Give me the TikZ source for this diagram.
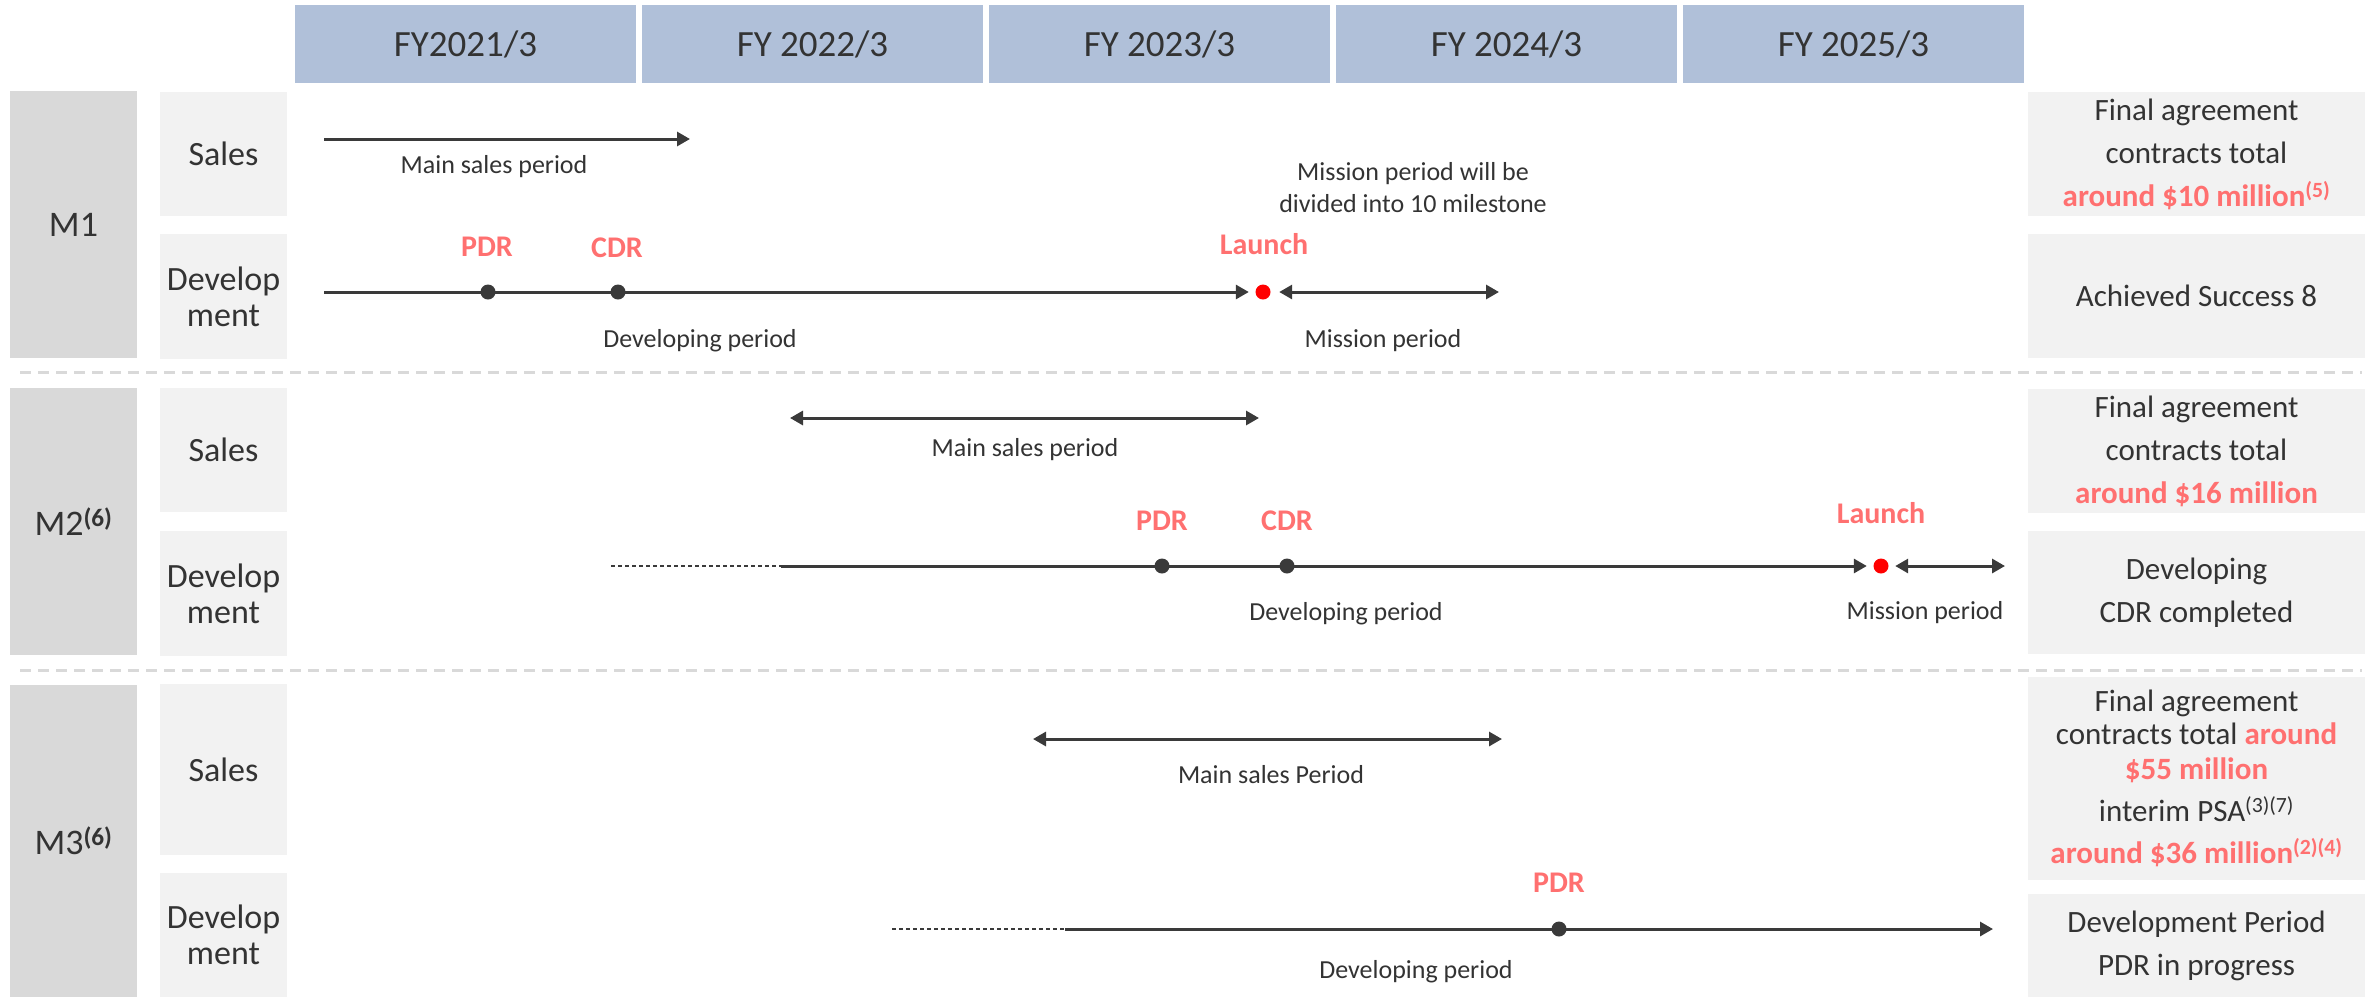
\documentclass[tikz,border=0pt]{standalone}
\usepackage{fontspec}
\setmainfont{Carlito}
\usetikzlibrary{arrows.meta}

\definecolor{hdrblue}{RGB}{176,192,217}
\definecolor{mgray}{RGB}{217,217,217}
\definecolor{rowgray}{RGB}{242,242,242}
\definecolor{ink}{RGB}{51,51,51}
\definecolor{lnk}{RGB}{58,58,58}
\definecolor{hot}{RGB}{255,112,112}

\newcommand{\amount}[1]{\textcolor{hot}{\bfseries #1}}

\begin{document}
\begin{tikzpicture}[
  x=1pt, y=-1pt,
  >={Triangle[length=13pt,width=14pt]},
  every node/.style={inner sep=0pt, text=ink},
  yearbox/.style={fill=hdrblue, minimum width=341pt, minimum height=78pt,
    font=\fontsize{37}{44}\selectfont},
  mbox/.style={fill=mgray, minimum width=127pt, font=\fontsize{36}{40}\selectfont},
  rowbox/.style={fill=rowgray, minimum width=127pt, align=center,
    font=\fontsize{34}{36}\selectfont},
  notebox/.style={fill=rowgray, minimum width=337pt, align=center,
    font=\fontsize{31}{43}\selectfont},
  period/.style={draw=lnk, line width=3pt},
  lead/.style={draw=lnk, line width=1.2pt, dash pattern=on 4pt off 3pt},
  sep/.style={draw=mgray, line width=3pt, dash pattern=on 11pt off 7pt},
  dot/.style={circle, fill=lnk, minimum size=15pt},
  launch/.style={circle, fill=red, minimum size=15pt},
  mslabel/.style={anchor=base, text=hot, font=\fontsize{30}{34}\selectfont\bfseries},
  caption/.style={anchor=base, font=\fontsize{26}{32}\selectfont},
]
\useasboundingbox (0,0) rectangle (2374,997);

% fiscal years
\foreach \fy [count=\i from 0] in {FY2021/3, FY 2022/3, FY 2023/3, FY 2024/3, FY 2025/3}
  \node[yearbox] (fy\i) at (465.5+347*\i,44) {\fy};

% missions and rows
\node[mbox, minimum height=267pt] (m1) at (73.5,224.5) {M1};
\node[mbox, minimum height=267pt] (m2) at (73.5,521.5) {M2\textsuperscript{\bfseries(6)}};
\node[mbox, minimum height=312pt] (m3) at (73.5,841) {M3\textsuperscript{\bfseries(6)}};

\node[rowbox, minimum height=124pt] (sales1) at (223.5,154) {Sales};
\node[rowbox, minimum height=125pt] (dev1) at (223.5,296.5) {Develop\\ment};
\node[rowbox, minimum height=124pt] (sales2) at (223.5,450) {Sales};
\node[rowbox, minimum height=125pt] (dev2) at (223.5,593.5) {Develop\\ment};
\node[rowbox, minimum height=171pt] (sales3) at (223.5,769.5) {Sales};
\node[rowbox, minimum height=124pt] (dev3) at (223.5,935) {Develop\\ment};

% status column
\node[notebox, minimum height=124pt] (note1s) at (2196.5,154)
  {Final agreement\\contracts total\\\amount{around \$10 million\textsuperscript{(5)}}};
\node[notebox, minimum height=124pt] (note1d) at (2196.5,296) {Achieved Success 8};
\node[notebox, minimum height=124pt] (note2s) at (2196.5,451)
  {Final agreement\\contracts total\\\amount{around \$16 million}};
\node[notebox, minimum height=123pt] (note2d) at (2196.5,592.5) {Developing\\CDR completed};
\node[notebox, minimum height=203pt] (note3s) at (2196.5,778.5)
  {Final agreement\\[-10pt]contracts total \amount{around}\\[-8pt]\amount{\$55 million}\\[-1pt]
   interim PSA\textsuperscript{(3)(7)}\\[-1pt]\amount{around \$36 million\textsuperscript{(2)(4)}}};
\node[notebox, minimum height=103pt] (note3d) at (2196.5,945.5) {Development Period\\PDR in progress};

% separators
\draw[sep] (20,372) -- (2362,372);
\draw[sep] (20,670) -- (2362,670);

% M1
\coordinate (s1a) at (324,139);
\coordinate (s1b) at (690,139);
\draw[period, ->] (s1a) -- (s1b);
\node[caption] (s1cap) at (494,173) {Main sales period};

\coordinate (d1a) at (324,292);
\node[launch] (l1) at (1263,292) {};
\coordinate (d1b) at (1499,292);
\draw[period, ->, shorten >=6.5pt] (d1a) -- (l1);
\draw[period, <->, shorten <=8.5pt] (l1) -- (d1b);
\node[dot] (pdr1) at (488,292) {};
\node[dot] (cdr1) at (618,292) {};
\node[mslabel] at (487,256) {PDR};
\node[mslabel] at (617,257) {CDR};
\node[mslabel] at (1264,254) {Launch};
\node[caption] (d1cap) at (700,347) {Developing period};
\node[caption] (l1cap) at (1383,347) {Mission period};
% base of a two-line node sits on its last line
\node[caption, align=center] (l1note) at (1413,212) {Mission period will be\\divided into 10 milestone};

% M2
\coordinate (s2a) at (790,418);
\coordinate (s2b) at (1259,418);
\draw[period, <->] (s2a) -- (s2b);
\node[caption] (s2cap) at (1025,456) {Main sales period};

\coordinate (d2a) at (611,566);
\coordinate (d2b) at (781,566);
\node[launch] (l2) at (1881,566) {};
\coordinate (d2c) at (2005,566);
\draw[lead] (d2a) -- (d2b);
\draw[period, ->, shorten >=6.5pt] (d2b) -- (l2);
\draw[period, <->, shorten <=6.5pt] (l2) -- (d2c);
\node[dot] (pdr2) at (1162,566) {};
\node[dot] (cdr2) at (1287,566) {};
\node[mslabel] at (1162,530) {PDR};
\node[mslabel] at (1287,530) {CDR};
\node[mslabel] at (1881,523) {Launch};
\node[caption] (d2cap) at (1346,620) {Developing period};
\node[caption] (l2cap) at (1925,619) {Mission period};

% M3
\coordinate (s3a) at (1033,739);
\coordinate (s3b) at (1502,739);
\draw[period, <->] (s3a) -- (s3b);
\node[caption] (s3cap) at (1271,783) {Main sales Period};

\coordinate (d3a) at (892,929);
\coordinate (d3b) at (1065,929);
\coordinate (d3c) at (1993,929);
\draw[lead] (d3a) -- (d3b);
\draw[period, ->] (d3b) -- (d3c);
\node[dot] (pdr3) at (1559,929) {};
\node[mslabel] at (1559,892) {PDR};
\node[caption] (d3cap) at (1416,978) {Developing period};
\end{tikzpicture}
\end{document}
